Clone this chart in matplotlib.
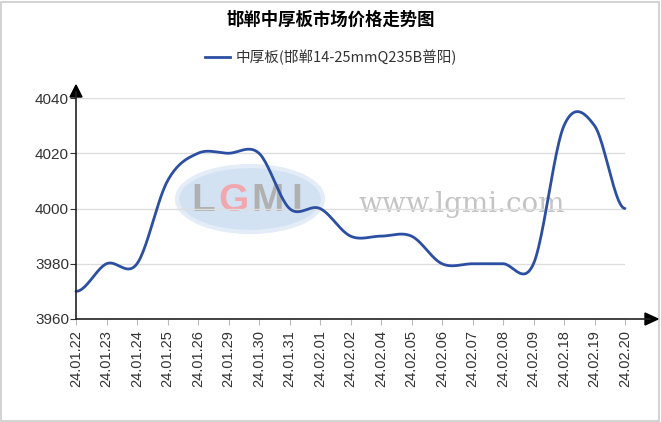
import matplotlib
matplotlib.use("Agg")
import matplotlib.pyplot as plt
from matplotlib.patches import Ellipse, Rectangle
import numpy as np

plt.rcParams['font.family'] = ['Liberation Sans', 'Noto Sans CJK SC', 'DejaVu Sans']

dates = ["24.01.22", "24.01.23", "24.01.24", "24.01.25", "24.01.26", "24.01.29",
         "24.01.30", "24.01.31", "24.02.01", "24.02.02", "24.02.04", "24.02.05",
         "24.02.06", "24.02.07", "24.02.08", "24.02.09", "24.02.18", "24.02.19",
         "24.02.20"]
prices = [3970, 3980, 3980, 4010, 4020, 4020, 4020, 4000, 4000, 3990, 3990, 3990,
          3980, 3980, 3980, 3980, 4030, 4030, 4000]
series_name = "中厚板(邯郸14-25mmQ235B普阳)"
title = "邯郸中厚板市场价格走势图"


# smooth line like the original spline chart (catmull-rom through the points)
def smooth(xs, ys, steps=24):
    xs = np.asarray(xs, float)
    ys = np.asarray(ys, float)
    n = len(ys)
    m = np.zeros(n)
    m[1:-1] = (ys[2:] - ys[:-2]) / 2
    out_x, out_y = [], []
    for i in range(n - 1):
        t = np.linspace(0, 1, steps, endpoint=False)
        h00 = 2 * t**3 - 3 * t**2 + 1
        h10 = t**3 - 2 * t**2 + t
        h01 = -2 * t**3 + 3 * t**2
        h11 = t**3 - t**2
        out_y.append(h00 * ys[i] + h10 * m[i] + h01 * ys[i + 1] + h11 * m[i + 1])
        out_x.append(xs[i] + t * (xs[i + 1] - xs[i]))
    out_x.append([xs[-1]])
    out_y.append([ys[-1]])
    return np.concatenate(out_x), np.concatenate(out_y)


W, H = 661, 422
fig = plt.figure(figsize=(W / 100, H / 100), dpi=100)
fig.patches.append(Rectangle((1 / W, 1 / H), 1 - 3 / W, 1 - 3 / H, transform=fig.transFigure,
                             fill=False, edgecolor="#cccccc", linewidth=1.2))

# background layer for the watermark (pixel coordinates)
bg = fig.add_axes([0, 0, 1, 1], zorder=0)
bg.set_xlim(0, W)
bg.set_ylim(H, 0)
bg.axis("off")
bg.add_patch(Ellipse((250, 199), 146, 66, facecolor="#d3e2f3", edgecolor="#e3ecf7", linewidth=3))
for ch, cx, col in [("L", 203, "#b0b0b0"), ("G", 233, "#f2a7ae"), ("M", 268, "#b0b0b0"), ("I", 297, "#b0b0b0")]:
    bg.text(cx, 201, ch, fontsize=28, color=col, fontweight="bold", va="center", ha="center")
bg.text(462, 205, "www.lgmi.com", fontsize=20, color="#c4c4c4", family="DejaVu Serif",
        va="center", ha="center")

left, right, top, bottom = 76, 625, 98, 319
ax = fig.add_axes([left / W, 1 - bottom / H, (right - left) / W, (bottom - top) / H], zorder=1)
ax.patch.set_alpha(0)

x = np.arange(len(prices))
sx, sy = smooth(x, prices)
ax.plot(sx, sy, color="#2c4fa3", linewidth=2, solid_capstyle="round", clip_on=False, zorder=3)

ax.set_xlim(0, len(prices) - 1)
ax.set_ylim(3960, 4040)
ax.set_yticks([3960, 3980, 4000, 4020, 4040])
ax.set_xticks(x)
ax.set_xticklabels(dates, rotation=90, fontsize=10.5, color="#333333")
ax.tick_params(axis="y", labelsize=11, colors="#333333", length=4, width=0.8, pad=1, color="#333333")
ax.tick_params(axis="x", length=4, width=0.8, color="#bbbbbb", pad=4)
ax.grid(axis="y", color="#dddddd", linewidth=1)
ax.set_axisbelow(True)
for s in ["top", "right", "bottom", "left"]:
    ax.spines[s].set_visible(False)

# axis lines with arrows on a top layer
fg = fig.add_axes([0, 0, 1, 1], zorder=2)
fg.set_xlim(0, W)
fg.set_ylim(H, 0)
fg.axis("off")
fg.patch.set_alpha(0)
fg.plot([left, 650], [bottom, bottom], color="#222222", linewidth=1.2)
fg.plot([left, left], [bottom, 92], color="#222222", linewidth=1.2)
fg.add_patch(plt.Polygon([[645, bottom - 6], [645, bottom + 6], [658, bottom]], color="black"))
fg.add_patch(plt.Polygon([[left - 6, 97], [left + 6, 97], [left, 85]], color="black"))

fig.text(331 / W, 1 - 20 / H, title, fontsize=12.5, fontweight="bold", ha="center", va="center",
         family=["Noto Sans CJK SC"])
fig.lines.append(plt.Line2D([205 / W, 230 / W], [1 - 57 / H, 1 - 57 / H], transform=fig.transFigure,
                            color="#2c4fa3", linewidth=2))
fig.text(236 / W, 1 - 57 / H, series_name, fontsize=10.5, ha="left", va="center", color="#333333",
         family=["Noto Sans CJK SC", "DejaVu Sans"])

fig.savefig("out.png", dpi=100)
